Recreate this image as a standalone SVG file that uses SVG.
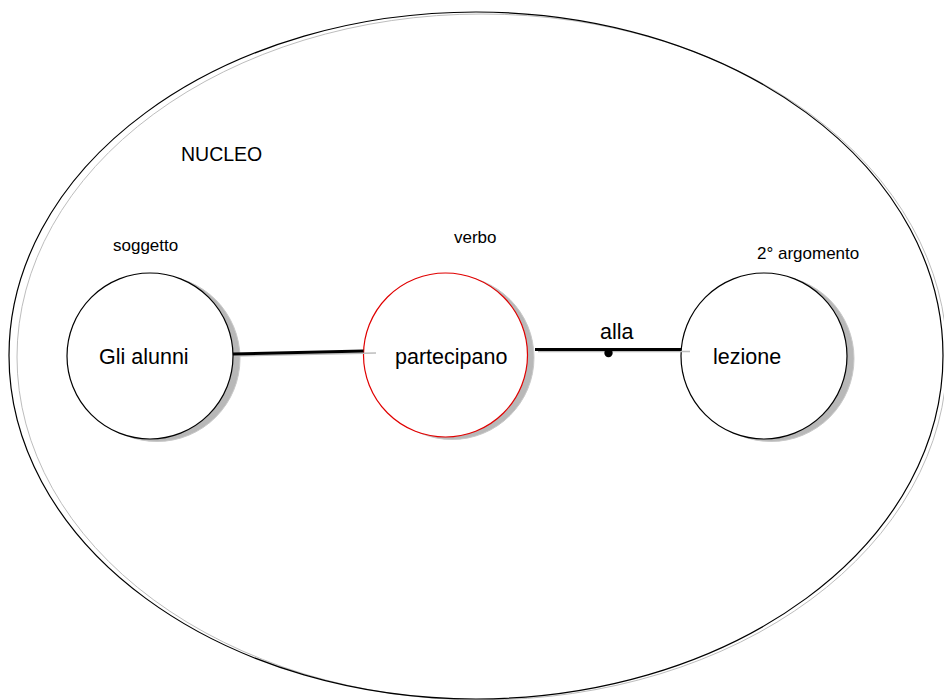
<svg xmlns="http://www.w3.org/2000/svg" width="944" height="700" viewBox="0 0 944 700">
<style>
  .lbl { font-family: "Liberation Sans", Arial, sans-serif; fill: #000; }
  .main { font-size: 21.5px; }
  .small { font-size: 17px; }
  .shadow { fill: #b8b8b8; stroke: #c8c8c8; stroke-width: 1; }
  .node { fill: #fff; stroke: #000; stroke-width: 1.2; }
  .conn { stroke: #000; stroke-width: 3; fill: none; }
  .connsh { stroke: #bdbdbd; stroke-width: 1.5; fill: none; }
</style>
<rect x="0" y="0" width="944" height="700" fill="#fff"/>
<g id="nucleo">
  <ellipse cx="482" cy="357" rx="465" ry="343" fill="none" stroke="#bdbdbd" stroke-width="1"/>
  <ellipse cx="476" cy="355.5" rx="467" ry="343.5" fill="none" stroke="#000" stroke-width="1.2"/>
  <text class="lbl" x="181" y="161" font-size="19.5">NUCLEO</text>
</g>
<g id="soggetto">
  <circle class="shadow" cx="157" cy="358.5" r="83"/>
  <circle class="node" cx="150" cy="356" r="83"/>
  <text class="lbl main" x="99" y="364">Gli alunni</text>
  <text class="lbl small" x="113" y="251">soggetto</text>
</g>
<g id="verbo">
  <circle class="shadow" cx="452" cy="357.5" r="82"/>
  <circle cx="445.5" cy="355" r="82" fill="#fff" stroke="#e00000" stroke-width="1.2"/>
  <text class="lbl main" x="395" y="364">partecipano</text>
  <text class="lbl small" x="454" y="243">verbo</text>
</g>
<g id="argomento">
  <circle class="shadow" cx="771" cy="358.5" r="83"/>
  <circle class="node" cx="764" cy="356" r="83"/>
  <text class="lbl main" x="713" y="364">lezione</text>
  <text class="lbl small" x="757" y="259">2° argomento</text>
</g>
<g id="connectors">
  <line class="connsh" x1="234" y1="356" x2="376" y2="353"/>
  <line class="conn" x1="233" y1="354" x2="363.5" y2="351"/>
  <line class="connsh" x1="538" y1="351.5" x2="690" y2="351.5"/>
  <line class="conn" x1="535" y1="349.5" x2="681" y2="349.5"/>
  <circle cx="608.5" cy="353" r="4.2" fill="#000"/>
  <text class="lbl main" x="600" y="339">alla</text>
</g>
</svg>
